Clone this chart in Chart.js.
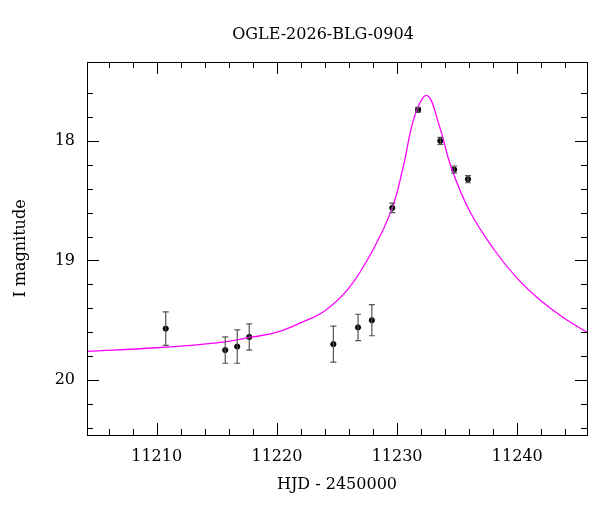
<!DOCTYPE html>
<html>
<head>
<meta charset="utf-8">
<script src="https://cdn.jsdelivr.net/npm/chart.js@4/dist/chart.umd.min.js"></script>
<style>
  html, body { margin: 0; padding: 0; background: #fff; }
  #wrap { width: 600px; height: 512px; }
</style>
</head>
<body>
<div id="wrap"><canvas id="chart" width="600" height="512"></canvas></div>
<script>
// observed photometry
var obsHjd = [11210.75, 11215.7, 11216.7, 11217.7, 11224.7, 11226.75, 11227.9, 11229.6, 11231.75, 11233.6, 11234.75, 11235.9];
var obsMag = [19.57, 19.75, 19.72, 19.64, 19.70, 19.56, 19.50, 18.56, 17.74, 18.00, 18.24, 18.32];
var obsErr = [0.14, 0.11, 0.14, 0.11, 0.15, 0.11, 0.13, 0.04, 0.02, 0.03, 0.03, 0.03];

// model curve
var modelHjd = [11204.2, 11210, 11215, 11218, 11220, 11222, 11224, 11226, 11228, 11229.6, 11230.5, 11231.5, 11232.5, 11233.5, 11234.5, 11236, 11238, 11240, 11242, 11244, 11245.8];
var modelMag = [19.76, 19.73, 19.69, 19.64, 19.60, 19.52, 19.42, 19.23, 18.91, 18.56, 18.22, 17.78, 17.62, 17.87, 18.22, 18.58, 18.90, 19.15, 19.34, 19.49, 19.60];

var xTicks = [11210, 11220, 11230, 11240];
var yTicks = [18, 19, 20];

var font = '"DejaVu Serif", "Liberation Serif", serif';

var frame = {
    id: 'frame',
    afterDatasetsDraw: function (chart) {
        var ctx = chart.ctx;
        var a = chart.chartArea;
        var xs = chart.scales.x, ys = chart.scales.y;
        ctx.save();

        // error bars
        ctx.strokeStyle = '#555';
        ctx.lineWidth = 1.2;
        for (var i = 0; i < obsHjd.length; i++) {
            var px = xs.getPixelForValue(obsHjd[i]);
            var y1 = ys.getPixelForValue(obsMag[i] - obsErr[i]);
            var y2 = ys.getPixelForValue(obsMag[i] + obsErr[i]);
            ctx.beginPath();
            ctx.moveTo(px, y1); ctx.lineTo(px, y2);
            ctx.moveTo(px - 3, y1); ctx.lineTo(px + 3, y1);
            ctx.moveTo(px - 3, y2); ctx.lineTo(px + 3, y2);
            ctx.stroke();
        }

        // box
        ctx.strokeStyle = '#000';
        ctx.lineWidth = 1;
        ctx.strokeRect(a.left + 0.5, a.top + 0.5, a.right - a.left, a.bottom - a.top);

        // ticks
        ctx.beginPath();
        for (var t = 11206; t <= 11244; t += 2) {
            var x = Math.round(xs.getPixelForValue(t)) + 0.5;
            var len = (t % 10 === 0) ? 12 : 6;
            ctx.moveTo(x, a.bottom); ctx.lineTo(x, a.bottom - len);
            ctx.moveTo(x, a.top); ctx.lineTo(x, a.top + len);
        }
        for (var k = 176; k <= 204; k += 2) {
            var m = k / 10;
            var y = Math.round(ys.getPixelForValue(m)) + 0.5;
            var l2 = (k % 10 === 0) ? 12 : 6;
            ctx.moveTo(a.left, y); ctx.lineTo(a.left + l2, y);
            ctx.moveTo(a.right, y); ctx.lineTo(a.right - l2, y);
        }
        ctx.stroke();

        // labels
        ctx.fillStyle = '#000';
        ctx.font = '16px ' + font;
        ctx.textAlign = 'center';
        ctx.textBaseline = 'middle';
        xTicks.forEach(function (v) {
            ctx.fillText(String(v), xs.getPixelForValue(v), a.bottom + 22);
        });
        ctx.textAlign = 'right';
        yTicks.forEach(function (v) {
            ctx.fillText(String(v), a.left - 12, ys.getPixelForValue(v));
        });
        ctx.textAlign = 'center';
        ctx.fillText('HJD - 2450000', (a.left + a.right) / 2, a.bottom + 50);
        ctx.fillText('OGLE-2026-BLG-0904', 323, 35);
        ctx.save();
        ctx.translate(21, (a.top + a.bottom) / 2);
        ctx.rotate(-Math.PI / 2);
        ctx.fillText('I magnitude', 0, 0);
        ctx.restore();

        ctx.restore();
    }
};

new Chart(document.getElementById('chart'), {
    type: 'scatter',
    data: {
        datasets: [
            {
                label: 'model',
                type: 'line',
                data: modelHjd.map(function (x, i) { return {x: x, y: modelMag[i]}; }),
                borderColor: '#ff00ff',
                borderWidth: 1.3,
                pointRadius: 0,
                tension: 0.4,
                fill: false
            },
            {
                label: 'OGLE',
                data: obsHjd.map(function (x, i) { return {x: x, y: obsMag[i]}; }),
                backgroundColor: '#000',
                borderColor: '#000',
                pointRadius: 2.6
            }
        ]
    },
    plugins: [frame],
    options: {
        responsive: false,
        animation: false,
        devicePixelRatio: 1,
        layout: {padding: {top: 62, right: 13, left: 0, bottom: 0}},
        plugins: {legend: {display: false}, tooltip: {enabled: false}, title: {display: false}},
        scales: {
            x: {
                type: 'linear', min: 11204.2, max: 11245.8,
                grid: {display: false}, border: {display: false},
                ticks: {display: false},
                afterFit: function (s) { s.height = 77; }
            },
            y: {
                type: 'linear', min: 17.34, max: 20.46, reverse: true,
                grid: {display: false}, border: {display: false},
                ticks: {display: false},
                afterFit: function (s) { s.width = 87; }
            }
        }
    }
});
</script>
</body>
</html>
